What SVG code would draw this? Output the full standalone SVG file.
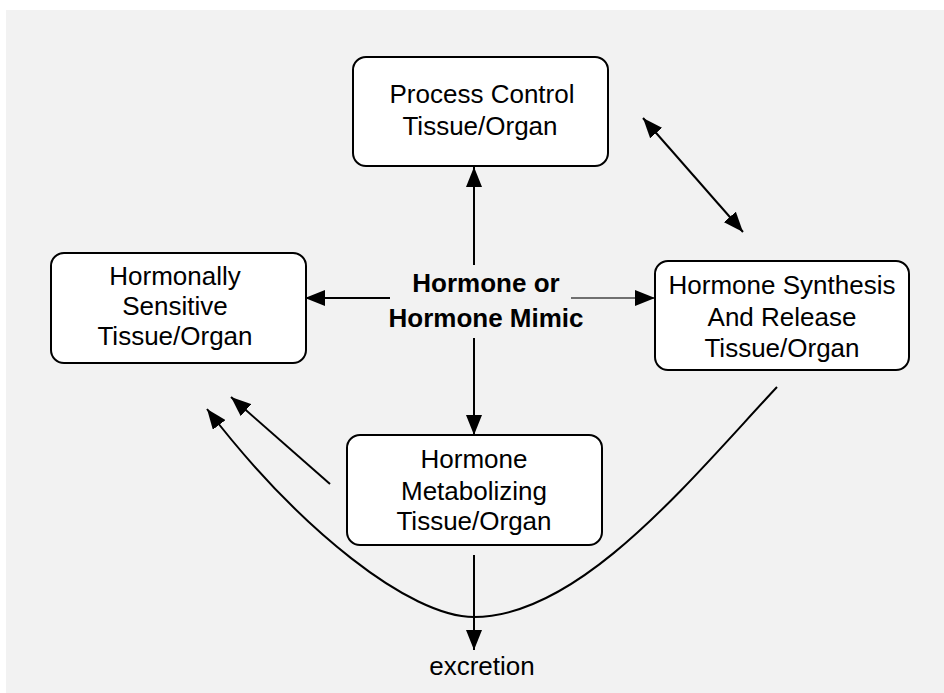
<svg xmlns="http://www.w3.org/2000/svg" width="944" height="693" viewBox="0 0 944 693">
<defs>
<style>
.box{fill:#fff;stroke:#000;stroke-width:2}
.t{font-family:"Liberation Sans",Arial,sans-serif;font-size:26px;fill:#000;text-anchor:middle}
.b{font-weight:bold}
.c{fill:none;stroke:#000;stroke-width:2}
</style>
<marker id="ah" viewBox="0 0 20 16" refX="20" refY="8" markerWidth="20" markerHeight="16" markerUnits="userSpaceOnUse" orient="auto-start-reverse">
<path d="M0,0 L20,8 L0,16 Z" fill="#000"/>
</marker>
</defs>
<rect x="6" y="10" width="938" height="683" fill="#f2f2f2"/>
<g id="connectors">
<line class="c" x1="474" y1="265" x2="474" y2="167" marker-end="url(#ah)"/>
<line class="c" x1="474" y1="338" x2="474" y2="435" marker-end="url(#ah)"/>
<line class="c" x1="390" y1="298" x2="305" y2="298" marker-end="url(#ah)"/>
<line x1="571" y1="298" x2="655" y2="298" stroke="#444" stroke-width="1.5" marker-end="url(#ah)"/>
<line class="c" x1="643" y1="118" x2="743" y2="232" marker-start="url(#ah)" marker-end="url(#ah)"/>
<line class="c" x1="474" y1="555" x2="474" y2="650" marker-end="url(#ah)"/>
<line class="c" x1="330" y1="484" x2="231" y2="397" marker-end="url(#ah)"/>
<path class="c" d="M777,387 C690,480 580,617 474,617 C410,617 300,530 207,409" marker-end="url(#ah)"/>
</g>
<g id="process-control">
<rect class="box" x="353" y="57" width="255" height="109" rx="13"/>
<text class="t" x="482" y="103">Process Control</text>
<text class="t" x="480" y="135">Tissue/Organ</text>
</g>
<g id="hormone-synthesis">
<rect class="box" x="655" y="261" width="254" height="109" rx="13"/>
<text class="t" x="782" y="294">Hormone Synthesis</text>
<text class="t" x="782" y="326">And Release</text>
<text class="t" x="782" y="357">Tissue/Organ</text>
</g>
<g id="hormonally-sensitive">
<rect class="box" x="51" y="253" width="255" height="110" rx="13"/>
<text class="t" x="175" y="285">Hormonally</text>
<text class="t" x="175" y="315">Sensitive</text>
<text class="t" x="175" y="345">Tissue/Organ</text>
</g>
<g id="hormone-mimic">
<text class="t b" x="486" y="292">Hormone or</text>
<text class="t b" x="486" y="327">Hormone Mimic</text>
</g>
<g id="hormone-metabolizing">
<rect class="box" x="347" y="435" width="255" height="110" rx="13"/>
<text class="t" x="474" y="468">Hormone</text>
<text class="t" x="474" y="500">Metabolizing</text>
<text class="t" x="474" y="530">Tissue/Organ</text>
</g>
<g id="excretion">
<text class="t" x="482" y="675">excretion</text>
</g>
</svg>
